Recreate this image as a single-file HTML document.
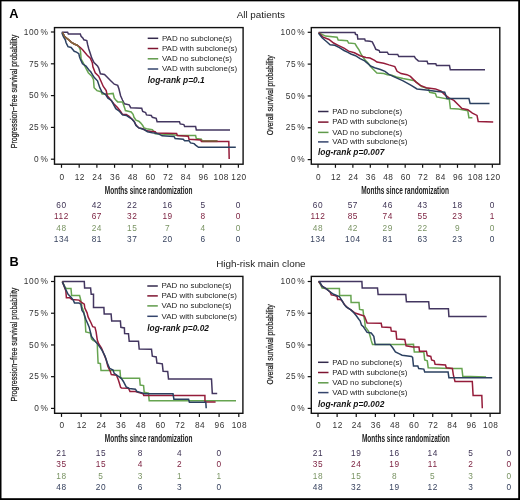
<!DOCTYPE html><html><head><meta charset="utf-8"><style>html,body{margin:0;padding:0;background:#fff;}svg{display:block;will-change:transform;}</style></head><body>
<svg width="520" height="500" viewBox="0 0 520 500" font-family='"Liberation Sans", sans-serif'>
<rect x="0" y="0" width="520" height="500" fill="#fff"/>
<rect x="0" y="0" width="1.5" height="500" fill="#000"/><rect x="0" y="0" width="520" height="1.35" fill="#000"/>
<rect x="518.2" y="0" width="1.8" height="500" fill="#000"/><rect x="0" y="498.2" width="520" height="1.8" fill="#000"/>
<text x="9.3" y="17.6" font-size="12.8" font-weight="bold" fill="#000">A</text>
<text x="9.5" y="265.8" font-size="12.8" font-weight="bold" fill="#000">B</text>
<text x="260.8" y="18.1" font-size="9.9" fill="#222" text-anchor="middle">All patients</text>
<text x="260.9" y="267.2" font-size="9.9" fill="#222" text-anchor="middle">High-risk main clone</text>
<polyline points="61.8,32.2 67.6,32.2 68.4,34 80.3,34 81.1,36.3 83,38.2 83.8,39.8 86.8,40.5 87.6,44.4 88.8,49 90.3,53.6 91.8,58.2 94,62.6 97.5,66 98.7,68.1 100.4,73.8 104.5,74.4 107.3,77.3 110.2,80.2 114.3,84.2 117.7,85.4 118.9,88.8 120.6,95.8 122.5,100 124.4,103.8 129.2,104.8 130.7,107.7 141.7,108.2 142.7,111.5 145.6,112.5 146.5,114.9 151.3,115.4 152.3,117.3 156.2,118.3 157.1,121.8 179.5,121.8 180.2,123.9 183.9,124.6 184.6,126.4 195.6,126.4 196.3,130 230,130" fill="none" stroke="#433660" stroke-width="1.5" stroke-linejoin="miter"/>
<polyline points="62.6,32.5 64.5,36.3 66.5,38.2 68.8,39.8 71.1,42.1 74.2,44 77.2,45.2 78.8,46.7 80.3,49.8 80.7,53.6 81.1,59 83.1,62.6 86,68.4 88.3,72.7 91.8,76.1 93.5,79.6 94.1,87.7 97,90.6 101,91.7 102.1,94 107.9,94 113.1,93.4 114.3,98.1 115.8,100 117.7,101.9 122.5,101.9 123.5,104.8 124.9,108.7 125.4,110.6 129.2,111.5 131.2,112 133.1,114.4 134,117.3 136,120.2 138.8,121.2 140.8,123.1 142.7,125.5 144.1,127.9 146.5,128.8 152.3,129.8 154.2,131.7 155.2,133.7 170,134.6 178.8,135.6 195.6,135.6 196.3,138.5 201.4,139.2 202.2,141 217.5,141" fill="none" stroke="#66a450" stroke-width="1.5" stroke-linejoin="miter"/>
<polyline points="62.6,32.5 64.5,36.3 66.5,38.2 68.8,39.8 71.1,42.1 74.2,44 77.2,45.2 80.3,47.5 82.6,49.8 84.9,52.5 87.2,55.2 90.3,58.2 92.3,62.6 92.9,66.9 95.2,72.7 98.7,76.1 101,81.3 103.3,86.5 106.2,90.6 107.3,95.8 110.2,99.2 113.8,103.8 117.7,107.7 120.6,111.5 122.5,114.4 126.3,114.4 129.2,116.3 132.1,119.2 134,121.2 136,125 138.8,127.9 142.7,128.8 146.5,130.8 150.4,131.3 155.2,131.7 156.2,133 176.6,133.4 177.3,135.6 188.3,136.3 189,139.2 200.7,140 201.4,141.6 228.8,141.6 229.2,159" fill="none" stroke="#951c3a" stroke-width="1.5" stroke-linejoin="miter"/>
<polyline points="61.8,32.5 63.4,36.7 65.3,39.8 66.1,42.8 68,46.7 71.1,47.5 73,49.8 74.2,51.3 76.5,52.1 78.8,53.6 79.5,56.7 80.3,59 82.5,63.8 86,66 89.5,70.7 90.6,71.5 94.1,77.3 97.5,80.8 99.8,87.7 102.1,92.3 105.6,94.6 107.9,98.1 111.4,100.4 115.8,108.7 119.6,111.5 122.5,114.9 126.3,115.4 129.2,117.3 132.1,119.2 134.5,122.1 136,125.5 138.8,127.9 141.7,128.8 144.6,129.8 147.5,131.7 152.3,132.7 156.2,133.2 159,134.1 162.1,135.8 173.7,136.4 174.4,137 175.1,138.5 183.2,139.2 184.6,140.7 189,140.7 190.5,142.9 194.1,143.6 195.6,145.1 198.5,147.3 235.8,147.3" fill="none" stroke="#2b4060" stroke-width="1.5" stroke-linejoin="miter"/>
<polyline points="62.6,32.5 64.5,36.3 66.5,38.2 68.8,39.8 71.1,42.1 74.2,44 77.2,45.2 78.8,46.7" fill="none" stroke="#86683c" stroke-width="1.5"/>
<polyline points="202.2,141.3 217.5,141.3" fill="none" stroke="#7a4a35" stroke-width="1.6"/>
<rect x="54.5" y="27.6" width="188.6" height="136.6" fill="none" stroke="#111" stroke-width="1.4"/>
<line x1="50.9" y1="32" x2="54.5" y2="32" stroke="#111" stroke-width="1.2"/>
<text x="48.5" y="34.7" font-size="8.3" fill="#333" text-anchor="end" letter-spacing="0.6" word-spacing="-1.7">100 %</text>
<line x1="50.9" y1="63.8" x2="54.5" y2="63.8" stroke="#111" stroke-width="1.2"/>
<text x="48.5" y="66.5" font-size="8.3" fill="#333" text-anchor="end" letter-spacing="0.6" word-spacing="-1.7">75 %</text>
<line x1="50.9" y1="95.6" x2="54.5" y2="95.6" stroke="#111" stroke-width="1.2"/>
<text x="48.5" y="98.3" font-size="8.3" fill="#333" text-anchor="end" letter-spacing="0.6" word-spacing="-1.7">50 %</text>
<line x1="50.9" y1="127.4" x2="54.5" y2="127.4" stroke="#111" stroke-width="1.2"/>
<text x="48.5" y="130.1" font-size="8.3" fill="#333" text-anchor="end" letter-spacing="0.6" word-spacing="-1.7">25 %</text>
<line x1="50.9" y1="159.2" x2="54.5" y2="159.2" stroke="#111" stroke-width="1.2"/>
<text x="48.5" y="161.9" font-size="8.3" fill="#333" text-anchor="end" letter-spacing="0.6" word-spacing="-1.7">0 %</text>
<line x1="61.5" y1="164.2" x2="61.5" y2="167.8" stroke="#111" stroke-width="1.2"/>
<text x="62.1" y="179.8" font-size="8.3" fill="#333" text-anchor="middle" letter-spacing="0.5">0</text>
<line x1="79.19" y1="164.2" x2="79.19" y2="167.8" stroke="#111" stroke-width="1.2"/>
<text x="79.79" y="179.8" font-size="8.3" fill="#333" text-anchor="middle" letter-spacing="0.5">12</text>
<line x1="96.88" y1="164.2" x2="96.88" y2="167.8" stroke="#111" stroke-width="1.2"/>
<text x="97.48" y="179.8" font-size="8.3" fill="#333" text-anchor="middle" letter-spacing="0.5">24</text>
<line x1="114.56" y1="164.2" x2="114.56" y2="167.8" stroke="#111" stroke-width="1.2"/>
<text x="115.16" y="179.8" font-size="8.3" fill="#333" text-anchor="middle" letter-spacing="0.5">36</text>
<line x1="132.25" y1="164.2" x2="132.25" y2="167.8" stroke="#111" stroke-width="1.2"/>
<text x="132.85" y="179.8" font-size="8.3" fill="#333" text-anchor="middle" letter-spacing="0.5">48</text>
<line x1="149.94" y1="164.2" x2="149.94" y2="167.8" stroke="#111" stroke-width="1.2"/>
<text x="150.54" y="179.8" font-size="8.3" fill="#333" text-anchor="middle" letter-spacing="0.5">60</text>
<line x1="167.63" y1="164.2" x2="167.63" y2="167.8" stroke="#111" stroke-width="1.2"/>
<text x="168.23" y="179.8" font-size="8.3" fill="#333" text-anchor="middle" letter-spacing="0.5">72</text>
<line x1="185.32" y1="164.2" x2="185.32" y2="167.8" stroke="#111" stroke-width="1.2"/>
<text x="185.92" y="179.8" font-size="8.3" fill="#333" text-anchor="middle" letter-spacing="0.5">84</text>
<line x1="203" y1="164.2" x2="203" y2="167.8" stroke="#111" stroke-width="1.2"/>
<text x="203.6" y="179.8" font-size="8.3" fill="#333" text-anchor="middle" letter-spacing="0.5">96</text>
<line x1="220.69" y1="164.2" x2="220.69" y2="167.8" stroke="#111" stroke-width="1.2"/>
<text x="221.29" y="179.8" font-size="8.3" fill="#333" text-anchor="middle" letter-spacing="0.5">108</text>
<line x1="238.38" y1="164.2" x2="238.38" y2="167.8" stroke="#111" stroke-width="1.2"/>
<text x="238.98" y="179.8" font-size="8.3" fill="#333" text-anchor="middle" letter-spacing="0.5">120</text>
<text x="104.8" y="194.3" font-size="10.3" font-weight="bold" fill="#222" textLength="87.7" lengthAdjust="spacingAndGlyphs">Months since randomization</text>
<text transform="translate(17.2,148.2) rotate(-90)" x="0" y="0" font-size="9.4" fill="#222" stroke="#222" stroke-width="0.25" textLength="113.4" lengthAdjust="spacingAndGlyphs">Progression−free survival probability</text>
<line x1="147.7" y1="38.3" x2="158.2" y2="38.3" stroke="#342a4c" stroke-width="1.5"/>
<text x="161.9" y="40.65" font-size="7.95" fill="#1e1e1e">PAD no subclone(s)</text>
<line x1="147.7" y1="48.5" x2="158.2" y2="48.5" stroke="#7e1430" stroke-width="1.5"/>
<text x="161.9" y="50.85" font-size="7.95" fill="#1e1e1e">PAD with subclone(s)</text>
<line x1="147.7" y1="58.8" x2="158.2" y2="58.8" stroke="#5f9a4a" stroke-width="1.5"/>
<text x="161.9" y="61.15" font-size="7.95" fill="#1e1e1e">VAD no subclone(s)</text>
<line x1="147.7" y1="69" x2="158.2" y2="69" stroke="#34446c" stroke-width="1.5"/>
<text x="161.9" y="71.35" font-size="7.95" fill="#1e1e1e">VAD with subclone(s)</text>
<text x="147.7" y="83" font-size="8.4" font-weight="bold" font-style="italic" fill="#111">log-rank p=0.1</text>
<text x="61.5" y="207.5" font-size="8.3" fill="#3e3354" text-anchor="middle" letter-spacing="0.6">60</text>
<text x="96.88" y="207.5" font-size="8.3" fill="#3e3354" text-anchor="middle" letter-spacing="0.6">42</text>
<text x="132.25" y="207.5" font-size="8.3" fill="#3e3354" text-anchor="middle" letter-spacing="0.6">22</text>
<text x="167.63" y="207.5" font-size="8.3" fill="#3e3354" text-anchor="middle" letter-spacing="0.6">16</text>
<text x="203" y="207.5" font-size="8.3" fill="#3e3354" text-anchor="middle" letter-spacing="0.6">5</text>
<text x="238.38" y="207.5" font-size="8.3" fill="#3e3354" text-anchor="middle" letter-spacing="0.6">0</text>
<text x="61.5" y="219" font-size="8.3" fill="#7d2342" text-anchor="middle" letter-spacing="0.6">112</text>
<text x="96.88" y="219" font-size="8.3" fill="#7d2342" text-anchor="middle" letter-spacing="0.6">67</text>
<text x="132.25" y="219" font-size="8.3" fill="#7d2342" text-anchor="middle" letter-spacing="0.6">32</text>
<text x="167.63" y="219" font-size="8.3" fill="#7d2342" text-anchor="middle" letter-spacing="0.6">19</text>
<text x="203" y="219" font-size="8.3" fill="#7d2342" text-anchor="middle" letter-spacing="0.6">8</text>
<text x="238.38" y="219" font-size="8.3" fill="#7d2342" text-anchor="middle" letter-spacing="0.6">0</text>
<text x="61.5" y="230.6" font-size="8.3" fill="#7a9464" text-anchor="middle" letter-spacing="0.6">48</text>
<text x="96.88" y="230.6" font-size="8.3" fill="#7a9464" text-anchor="middle" letter-spacing="0.6">24</text>
<text x="132.25" y="230.6" font-size="8.3" fill="#7a9464" text-anchor="middle" letter-spacing="0.6">15</text>
<text x="167.63" y="230.6" font-size="8.3" fill="#7a9464" text-anchor="middle" letter-spacing="0.6">7</text>
<text x="203" y="230.6" font-size="8.3" fill="#7a9464" text-anchor="middle" letter-spacing="0.6">4</text>
<text x="238.38" y="230.6" font-size="8.3" fill="#7a9464" text-anchor="middle" letter-spacing="0.6">0</text>
<text x="61.5" y="242.1" font-size="8.3" fill="#37425e" text-anchor="middle" letter-spacing="0.6">134</text>
<text x="96.88" y="242.1" font-size="8.3" fill="#37425e" text-anchor="middle" letter-spacing="0.6">81</text>
<text x="132.25" y="242.1" font-size="8.3" fill="#37425e" text-anchor="middle" letter-spacing="0.6">37</text>
<text x="167.63" y="242.1" font-size="8.3" fill="#37425e" text-anchor="middle" letter-spacing="0.6">20</text>
<text x="203" y="242.1" font-size="8.3" fill="#37425e" text-anchor="middle" letter-spacing="0.6">6</text>
<text x="238.38" y="242.1" font-size="8.3" fill="#37425e" text-anchor="middle" letter-spacing="0.6">0</text>
<polyline points="318.6,32.6 355,32.6 355.5,34.3 357.3,34.9 357.8,39 364.7,39 365.3,40.7 370,41.3 372.3,41.8 374,45.3 375.8,49.3 379.2,50.5 379.8,52.2 387.3,52.2 388.5,54.3 397.7,54.5 398.8,56.6 414.4,56.6 415.6,58.6 418.4,60.9 427.1,61.2 427.9,63.7 435.8,63.7 436.5,65.6 449.5,65.6 450.3,69.8 485,69.8" fill="none" stroke="#433660" stroke-width="1.5" stroke-linejoin="miter"/>
<polyline points="318.6,32.6 322.1,34.3 325.5,36.1 337.1,37.2 338.2,40.1 347.4,40.7 348.6,43 355,43.6 356.7,46.5 359,49.9 360.7,53.4 362.4,56.3 365.3,60.3 367.6,62.6 371,67 374.6,70.7 376.9,73 383.8,73.6 387.3,74.7 391.9,75.3 396.5,77 403.1,78.5 414.6,80.8 421.6,86.6 428.5,88.9 429.7,92.3 435.4,93.5 436.6,96.9 449.3,99.3 450.4,108.5 458.5,109 467.8,110.8 468.9,117.7 472.4,117.7" fill="none" stroke="#66a450" stroke-width="1.5" stroke-linejoin="miter"/>
<polyline points="318.6,32.6 323.2,37.2 329,39.5 333.6,43 338.2,45.3 344,48.2 348.6,51.1 354.4,52.8 360.1,55.7 365.9,57.4 370,58 374.6,60.3 376.9,62 383.8,63.2 389,64.9 394.8,66.6 397.1,71.3 401.1,73.6 406.9,74.7 410.4,76.4 415.8,81.9 420.4,85.4 426.2,87.7 435.4,88.9 441.2,91.2 444.7,94.6 449.3,98.1 453.9,100.4 458.5,105 462,108.5 467.8,109.7 472.4,113.1 477,115.4 478.2,121.5 493.2,121.9" fill="none" stroke="#951c3a" stroke-width="1.5" stroke-linejoin="miter"/>
<polyline points="318.6,33.2 322.1,37.8 326.7,41.8 330.1,44.7 334.8,45.3 339.4,47.6 344,50.5 347.4,52.2 350.9,54 355.5,55.7 360.1,58.6 364.7,60.9 368.2,63.8 370.5,66 374.6,67.8 380.4,69.5 385,71.3 388.5,74.1 393.1,76.4 403.1,80.8 411.2,85.4 417,88.9 426.2,90 435.4,91.2 444.7,92.3 447,98.4 468.9,98.4 470.1,103.4 489.5,103.4" fill="none" stroke="#2b4060" stroke-width="1.5" stroke-linejoin="miter"/>
<rect x="311.3" y="27.6" width="188.5" height="136.6" fill="none" stroke="#111" stroke-width="1.4"/>
<line x1="307.7" y1="32.3" x2="311.3" y2="32.3" stroke="#111" stroke-width="1.2"/>
<text x="305.3" y="35" font-size="8.3" fill="#333" text-anchor="end" letter-spacing="0.6" word-spacing="-1.7">100 %</text>
<line x1="307.7" y1="64.12" x2="311.3" y2="64.12" stroke="#111" stroke-width="1.2"/>
<text x="305.3" y="66.83" font-size="8.3" fill="#333" text-anchor="end" letter-spacing="0.6" word-spacing="-1.7">75 %</text>
<line x1="307.7" y1="95.95" x2="311.3" y2="95.95" stroke="#111" stroke-width="1.2"/>
<text x="305.3" y="98.65" font-size="8.3" fill="#333" text-anchor="end" letter-spacing="0.6" word-spacing="-1.7">50 %</text>
<line x1="307.7" y1="127.77" x2="311.3" y2="127.77" stroke="#111" stroke-width="1.2"/>
<text x="305.3" y="130.47" font-size="8.3" fill="#333" text-anchor="end" letter-spacing="0.6" word-spacing="-1.7">25 %</text>
<line x1="307.7" y1="159.6" x2="311.3" y2="159.6" stroke="#111" stroke-width="1.2"/>
<text x="305.3" y="162.3" font-size="8.3" fill="#333" text-anchor="end" letter-spacing="0.6" word-spacing="-1.7">0 %</text>
<line x1="318" y1="164.2" x2="318" y2="167.8" stroke="#111" stroke-width="1.2"/>
<text x="318.6" y="179.8" font-size="8.3" fill="#333" text-anchor="middle" letter-spacing="0.5">0</text>
<line x1="335.44" y1="164.2" x2="335.44" y2="167.8" stroke="#111" stroke-width="1.2"/>
<text x="336.04" y="179.8" font-size="8.3" fill="#333" text-anchor="middle" letter-spacing="0.5">12</text>
<line x1="352.87" y1="164.2" x2="352.87" y2="167.8" stroke="#111" stroke-width="1.2"/>
<text x="353.47" y="179.8" font-size="8.3" fill="#333" text-anchor="middle" letter-spacing="0.5">24</text>
<line x1="370.31" y1="164.2" x2="370.31" y2="167.8" stroke="#111" stroke-width="1.2"/>
<text x="370.91" y="179.8" font-size="8.3" fill="#333" text-anchor="middle" letter-spacing="0.5">36</text>
<line x1="387.74" y1="164.2" x2="387.74" y2="167.8" stroke="#111" stroke-width="1.2"/>
<text x="388.34" y="179.8" font-size="8.3" fill="#333" text-anchor="middle" letter-spacing="0.5">48</text>
<line x1="405.18" y1="164.2" x2="405.18" y2="167.8" stroke="#111" stroke-width="1.2"/>
<text x="405.78" y="179.8" font-size="8.3" fill="#333" text-anchor="middle" letter-spacing="0.5">60</text>
<line x1="422.62" y1="164.2" x2="422.62" y2="167.8" stroke="#111" stroke-width="1.2"/>
<text x="423.22" y="179.8" font-size="8.3" fill="#333" text-anchor="middle" letter-spacing="0.5">72</text>
<line x1="440.05" y1="164.2" x2="440.05" y2="167.8" stroke="#111" stroke-width="1.2"/>
<text x="440.65" y="179.8" font-size="8.3" fill="#333" text-anchor="middle" letter-spacing="0.5">84</text>
<line x1="457.49" y1="164.2" x2="457.49" y2="167.8" stroke="#111" stroke-width="1.2"/>
<text x="458.09" y="179.8" font-size="8.3" fill="#333" text-anchor="middle" letter-spacing="0.5">96</text>
<line x1="474.92" y1="164.2" x2="474.92" y2="167.8" stroke="#111" stroke-width="1.2"/>
<text x="475.52" y="179.8" font-size="8.3" fill="#333" text-anchor="middle" letter-spacing="0.5">108</text>
<line x1="492.36" y1="164.2" x2="492.36" y2="167.8" stroke="#111" stroke-width="1.2"/>
<text x="492.96" y="179.8" font-size="8.3" fill="#333" text-anchor="middle" letter-spacing="0.5">120</text>
<text x="361.2" y="194.3" font-size="10.3" font-weight="bold" fill="#222" textLength="87.8" lengthAdjust="spacingAndGlyphs">Months since randomization</text>
<text transform="translate(272.8,135.2) rotate(-90)" x="0" y="0" font-size="9.4" fill="#222" stroke="#222" stroke-width="0.25" textLength="80" lengthAdjust="spacingAndGlyphs">Overall survival probability</text>
<line x1="318" y1="111.5" x2="328.5" y2="111.5" stroke="#342a4c" stroke-width="1.5"/>
<text x="332.2" y="113.85" font-size="7.95" fill="#1e1e1e">PAD no subclone(s)</text>
<line x1="318" y1="122.1" x2="328.5" y2="122.1" stroke="#7e1430" stroke-width="1.5"/>
<text x="332.2" y="124.45" font-size="7.95" fill="#1e1e1e">PAD with subclone(s)</text>
<line x1="318" y1="132.4" x2="328.5" y2="132.4" stroke="#5f9a4a" stroke-width="1.5"/>
<text x="332.2" y="134.75" font-size="7.95" fill="#1e1e1e">VAD no subclone(s)</text>
<line x1="318" y1="141.9" x2="328.5" y2="141.9" stroke="#34446c" stroke-width="1.5"/>
<text x="332.2" y="144.25" font-size="7.95" fill="#1e1e1e">VAD with subclone(s)</text>
<text x="318" y="155.2" font-size="8.4" font-weight="bold" font-style="italic" fill="#111">log-rank p=0.007</text>
<text x="318" y="207.5" font-size="8.3" fill="#3e3354" text-anchor="middle" letter-spacing="0.6">60</text>
<text x="352.87" y="207.5" font-size="8.3" fill="#3e3354" text-anchor="middle" letter-spacing="0.6">57</text>
<text x="387.74" y="207.5" font-size="8.3" fill="#3e3354" text-anchor="middle" letter-spacing="0.6">46</text>
<text x="422.62" y="207.5" font-size="8.3" fill="#3e3354" text-anchor="middle" letter-spacing="0.6">43</text>
<text x="457.49" y="207.5" font-size="8.3" fill="#3e3354" text-anchor="middle" letter-spacing="0.6">18</text>
<text x="492.36" y="207.5" font-size="8.3" fill="#3e3354" text-anchor="middle" letter-spacing="0.6">0</text>
<text x="318" y="219" font-size="8.3" fill="#7d2342" text-anchor="middle" letter-spacing="0.6">112</text>
<text x="352.87" y="219" font-size="8.3" fill="#7d2342" text-anchor="middle" letter-spacing="0.6">85</text>
<text x="387.74" y="219" font-size="8.3" fill="#7d2342" text-anchor="middle" letter-spacing="0.6">74</text>
<text x="422.62" y="219" font-size="8.3" fill="#7d2342" text-anchor="middle" letter-spacing="0.6">55</text>
<text x="457.49" y="219" font-size="8.3" fill="#7d2342" text-anchor="middle" letter-spacing="0.6">23</text>
<text x="492.36" y="219" font-size="8.3" fill="#7d2342" text-anchor="middle" letter-spacing="0.6">1</text>
<text x="318" y="230.6" font-size="8.3" fill="#7a9464" text-anchor="middle" letter-spacing="0.6">48</text>
<text x="352.87" y="230.6" font-size="8.3" fill="#7a9464" text-anchor="middle" letter-spacing="0.6">42</text>
<text x="387.74" y="230.6" font-size="8.3" fill="#7a9464" text-anchor="middle" letter-spacing="0.6">29</text>
<text x="422.62" y="230.6" font-size="8.3" fill="#7a9464" text-anchor="middle" letter-spacing="0.6">22</text>
<text x="457.49" y="230.6" font-size="8.3" fill="#7a9464" text-anchor="middle" letter-spacing="0.6">9</text>
<text x="492.36" y="230.6" font-size="8.3" fill="#7a9464" text-anchor="middle" letter-spacing="0.6">0</text>
<text x="318" y="242.1" font-size="8.3" fill="#37425e" text-anchor="middle" letter-spacing="0.6">134</text>
<text x="352.87" y="242.1" font-size="8.3" fill="#37425e" text-anchor="middle" letter-spacing="0.6">104</text>
<text x="387.74" y="242.1" font-size="8.3" fill="#37425e" text-anchor="middle" letter-spacing="0.6">81</text>
<text x="422.62" y="242.1" font-size="8.3" fill="#37425e" text-anchor="middle" letter-spacing="0.6">63</text>
<text x="457.49" y="242.1" font-size="8.3" fill="#37425e" text-anchor="middle" letter-spacing="0.6">23</text>
<text x="492.36" y="242.1" font-size="8.3" fill="#37425e" text-anchor="middle" letter-spacing="0.6">0</text>
<polyline points="62.3,281.6 84.3,281.6 84.6,288 90.6,288 91.2,294.3 93.5,294.3 93.5,307.6 103.9,307.6 104.2,314 111.1,314 111.7,321 120.4,321 120.9,327.3 124.4,327.9 124.6,333.5 128.5,333.8 129.2,341.3 138.5,341.3 139.2,349 151.5,349.2 152.3,356.2 156.2,356.9 156.9,363.1 162.3,363.8 163.1,371.2 167.7,371.5 168.5,378.9 211.5,378.9 212.3,393.5 217.2,393.5" fill="none" stroke="#433660" stroke-width="1.5" stroke-linejoin="miter"/>
<polyline points="62.3,281.6 65.2,287.4 66.4,288.5 71,288.5 71.6,295.5 79.6,295.5 80.8,300.1 82,307 83.7,311.6 84.8,317.4 85.2,321.5 85.8,331.9 90.4,333.1 91.5,338.8 93.3,340.6 95,341.1 97.3,343.4 97.5,350.4 98.1,363.1 100.4,363.6 101,370.6 120,370.6 120.6,378.3 139.6,378.3 140.2,385 143.6,385.6 144.2,392.3 148.5,393.1 149.2,400.8 236,400.8" fill="none" stroke="#66a450" stroke-width="1.5" stroke-linejoin="miter"/>
<polyline points="62.3,281.6 65.8,290.8 66.4,297.8 69.8,297.8 72.1,299.5 79.1,300.1 80.8,301.8 84.3,304.1 84.8,308.1 87.1,312.8 88.1,316.9 91,322.7 92.7,326.7 95,327.3 96.1,331.9 97.3,340 98.5,343.4 101.5,348.1 103.8,353.8 106.1,359.6 107.9,366.5 110.2,371.1 111.3,374.6 116.5,375.2 118.3,379.8 119.4,383.3 120.6,387.3 121.5,387.9 128.5,388.2 130,391.5 135.4,391.5 143.1,393.8 143.8,395.6 204.9,395.6 205,402 215.6,402" fill="none" stroke="#951c3a" stroke-width="1.5" stroke-linejoin="miter"/>
<polyline points="62.3,281.6 65.8,289.7 68.1,294.3 71,297.2 73.3,300.1 74.5,303 79.1,303 80.8,304.1 82,310.4 83.7,312.8 85.8,319.2 89.2,327.3 91.5,336.5 95,341.1 98.1,344.6 102.1,350.4 105,356.1 107.3,363.1 109.6,368.3 113.1,370 114.2,373.4 117.7,375.8 121.1,378.1 123.4,381.5 126.2,386.9 129.2,388.5 135.4,389.2 136.9,391.5 143.1,393.1 144.6,393.8 173,393.8 173.9,399.2 188.6,399.2 189.4,402.2 205.8,402.2 206.2,408.2" fill="none" stroke="#2b4060" stroke-width="1.5" stroke-linejoin="miter"/>
<rect x="54.6" y="276.4" width="188.3" height="136.9" fill="none" stroke="#111" stroke-width="1.4"/>
<line x1="51" y1="281.5" x2="54.6" y2="281.5" stroke="#111" stroke-width="1.2"/>
<text x="48.6" y="284.2" font-size="8.3" fill="#333" text-anchor="end" letter-spacing="0.6" word-spacing="-1.7">100 %</text>
<line x1="51" y1="313.23" x2="54.6" y2="313.23" stroke="#111" stroke-width="1.2"/>
<text x="48.6" y="315.93" font-size="8.3" fill="#333" text-anchor="end" letter-spacing="0.6" word-spacing="-1.7">75 %</text>
<line x1="51" y1="344.95" x2="54.6" y2="344.95" stroke="#111" stroke-width="1.2"/>
<text x="48.6" y="347.65" font-size="8.3" fill="#333" text-anchor="end" letter-spacing="0.6" word-spacing="-1.7">50 %</text>
<line x1="51" y1="376.67" x2="54.6" y2="376.67" stroke="#111" stroke-width="1.2"/>
<text x="48.6" y="379.37" font-size="8.3" fill="#333" text-anchor="end" letter-spacing="0.6" word-spacing="-1.7">25 %</text>
<line x1="51" y1="408.4" x2="54.6" y2="408.4" stroke="#111" stroke-width="1.2"/>
<text x="48.6" y="411.1" font-size="8.3" fill="#333" text-anchor="end" letter-spacing="0.6" word-spacing="-1.7">0 %</text>
<line x1="61.5" y1="413.3" x2="61.5" y2="416.9" stroke="#111" stroke-width="1.2"/>
<text x="62.1" y="427.9" font-size="8.3" fill="#333" text-anchor="middle" letter-spacing="0.5">0</text>
<line x1="81.2" y1="413.3" x2="81.2" y2="416.9" stroke="#111" stroke-width="1.2"/>
<text x="81.8" y="427.9" font-size="8.3" fill="#333" text-anchor="middle" letter-spacing="0.5">12</text>
<line x1="100.9" y1="413.3" x2="100.9" y2="416.9" stroke="#111" stroke-width="1.2"/>
<text x="101.5" y="427.9" font-size="8.3" fill="#333" text-anchor="middle" letter-spacing="0.5">24</text>
<line x1="120.6" y1="413.3" x2="120.6" y2="416.9" stroke="#111" stroke-width="1.2"/>
<text x="121.2" y="427.9" font-size="8.3" fill="#333" text-anchor="middle" letter-spacing="0.5">36</text>
<line x1="140.3" y1="413.3" x2="140.3" y2="416.9" stroke="#111" stroke-width="1.2"/>
<text x="140.9" y="427.9" font-size="8.3" fill="#333" text-anchor="middle" letter-spacing="0.5">48</text>
<line x1="160" y1="413.3" x2="160" y2="416.9" stroke="#111" stroke-width="1.2"/>
<text x="160.6" y="427.9" font-size="8.3" fill="#333" text-anchor="middle" letter-spacing="0.5">60</text>
<line x1="179.7" y1="413.3" x2="179.7" y2="416.9" stroke="#111" stroke-width="1.2"/>
<text x="180.3" y="427.9" font-size="8.3" fill="#333" text-anchor="middle" letter-spacing="0.5">72</text>
<line x1="199.4" y1="413.3" x2="199.4" y2="416.9" stroke="#111" stroke-width="1.2"/>
<text x="200" y="427.9" font-size="8.3" fill="#333" text-anchor="middle" letter-spacing="0.5">84</text>
<line x1="219.1" y1="413.3" x2="219.1" y2="416.9" stroke="#111" stroke-width="1.2"/>
<text x="219.7" y="427.9" font-size="8.3" fill="#333" text-anchor="middle" letter-spacing="0.5">96</text>
<line x1="238.8" y1="413.3" x2="238.8" y2="416.9" stroke="#111" stroke-width="1.2"/>
<text x="239.4" y="427.9" font-size="8.3" fill="#333" text-anchor="middle" letter-spacing="0.5">108</text>
<text x="104.8" y="442.4" font-size="10.3" font-weight="bold" fill="#222" textLength="87.7" lengthAdjust="spacingAndGlyphs">Months since randomization</text>
<text transform="translate(17.2,401.5) rotate(-90)" x="0" y="0" font-size="9.4" fill="#222" stroke="#222" stroke-width="0.25" textLength="113.9" lengthAdjust="spacingAndGlyphs">Progression−free survival probability</text>
<line x1="147.3" y1="286" x2="157.8" y2="286" stroke="#342a4c" stroke-width="1.5"/>
<text x="161.5" y="288.35" font-size="7.95" fill="#1e1e1e">PAD no subclone(s)</text>
<line x1="147.3" y1="295.9" x2="157.8" y2="295.9" stroke="#7e1430" stroke-width="1.5"/>
<text x="161.5" y="298.25" font-size="7.95" fill="#1e1e1e">PAD with subclone(s)</text>
<line x1="147.3" y1="305.9" x2="157.8" y2="305.9" stroke="#5f9a4a" stroke-width="1.5"/>
<text x="161.5" y="308.25" font-size="7.95" fill="#1e1e1e">VAD no subclone(s)</text>
<line x1="147.3" y1="316.3" x2="157.8" y2="316.3" stroke="#34446c" stroke-width="1.5"/>
<text x="161.5" y="318.65" font-size="7.95" fill="#1e1e1e">VAD with subclone(s)</text>
<text x="147.3" y="331.3" font-size="8.4" font-weight="bold" font-style="italic" fill="#111">log-rank p=0.02</text>
<text x="61.5" y="455.9" font-size="8.3" fill="#3e3354" text-anchor="middle" letter-spacing="0.6">21</text>
<text x="100.9" y="455.9" font-size="8.3" fill="#3e3354" text-anchor="middle" letter-spacing="0.6">15</text>
<text x="140.3" y="455.9" font-size="8.3" fill="#3e3354" text-anchor="middle" letter-spacing="0.6">8</text>
<text x="179.7" y="455.9" font-size="8.3" fill="#3e3354" text-anchor="middle" letter-spacing="0.6">4</text>
<text x="219.1" y="455.9" font-size="8.3" fill="#3e3354" text-anchor="middle" letter-spacing="0.6">0</text>
<text x="61.5" y="467.4" font-size="8.3" fill="#7d2342" text-anchor="middle" letter-spacing="0.6">35</text>
<text x="100.9" y="467.4" font-size="8.3" fill="#7d2342" text-anchor="middle" letter-spacing="0.6">15</text>
<text x="140.3" y="467.4" font-size="8.3" fill="#7d2342" text-anchor="middle" letter-spacing="0.6">4</text>
<text x="179.7" y="467.4" font-size="8.3" fill="#7d2342" text-anchor="middle" letter-spacing="0.6">2</text>
<text x="219.1" y="467.4" font-size="8.3" fill="#7d2342" text-anchor="middle" letter-spacing="0.6">0</text>
<text x="61.5" y="478.5" font-size="8.3" fill="#7a9464" text-anchor="middle" letter-spacing="0.6">18</text>
<text x="100.9" y="478.5" font-size="8.3" fill="#7a9464" text-anchor="middle" letter-spacing="0.6">5</text>
<text x="140.3" y="478.5" font-size="8.3" fill="#7a9464" text-anchor="middle" letter-spacing="0.6">3</text>
<text x="179.7" y="478.5" font-size="8.3" fill="#7a9464" text-anchor="middle" letter-spacing="0.6">1</text>
<text x="219.1" y="478.5" font-size="8.3" fill="#7a9464" text-anchor="middle" letter-spacing="0.6">1</text>
<text x="61.5" y="490" font-size="8.3" fill="#37425e" text-anchor="middle" letter-spacing="0.6">48</text>
<text x="100.9" y="490" font-size="8.3" fill="#37425e" text-anchor="middle" letter-spacing="0.6">20</text>
<text x="140.3" y="490" font-size="8.3" fill="#37425e" text-anchor="middle" letter-spacing="0.6">6</text>
<text x="179.7" y="490" font-size="8.3" fill="#37425e" text-anchor="middle" letter-spacing="0.6">3</text>
<text x="219.1" y="490" font-size="8.3" fill="#37425e" text-anchor="middle" letter-spacing="0.6">0</text>
<polyline points="318.6,281.4 361.9,281.4 362.2,288 377.5,288 378.1,294.5 405.8,294.5 406.4,301.8 428.7,301.8 429.3,308.8 448.4,308.8 448.9,316.6 486.7,316.6" fill="none" stroke="#433660" stroke-width="1.5" stroke-linejoin="miter"/>
<polyline points="318.6,281.4 320.9,285.1 322.1,288 325.5,288.5 339.4,288.5 339.6,295.5 350.9,295.5 351.1,302.4 359,302.4 359.6,309.4 363,309.9 363.6,315.1 364.7,320.8 365.3,327 368.5,331 369.8,335 371.2,340.4 372.5,344.4 406.1,344.4 413.5,344.3 414.3,352.1 423.8,352.1 424.7,359.9 427.3,360.8 428.2,367.7 451.5,368.5 461.9,368.5 462.8,376.3 486.1,376.9" fill="none" stroke="#66a450" stroke-width="1.5" stroke-linejoin="miter"/>
<polyline points="318.6,281.4 322.1,286.2 326.7,289.1 330.1,292 331.3,294.9 334.8,295.5 337.1,296.6 337.6,299.5 340.5,299.5 342.3,301.2 344.6,304.7 347.4,307.6 350.9,309.9 353.2,311.6 355,313 360.4,314.8 364.4,316 365.8,319.5 367.1,323 381.2,323.3 381.9,327 390.7,327.4 391.3,331 396,331.4 396.7,339 404.8,339.5 406.1,345.8 412.9,346.9 419,347 419.5,351.2 426.4,351.2 427.3,355.6 430.8,356.4 431.6,359.9 434.2,360.8 435.1,364.2 445.5,365 446.3,367.7 452.4,368.5 453.3,374.6 455,381.5 472.3,381.5 473.1,395.4 481.8,395.4 482.3,408.3" fill="none" stroke="#951c3a" stroke-width="1.5" stroke-linejoin="miter"/>
<polyline points="318.6,281.4 319.8,282.2 322.1,286.2 326.7,289.1 330.1,292 333.6,294.3 339.4,296.6 341.7,300.1 344,304.1 346.3,307 350.9,309.9 353.8,312.8 356.5,316 359,319.5 360.1,320.8 361.5,325 363.6,327 364.4,328.3 367.1,332.3 371.2,333 373.8,336.3 375.2,344.4 390,344.4 392.7,347.8 395.4,351.8 399.4,353.8 402.1,355.2 411.5,356.5 412.6,357.3 413.5,366 417.8,366 418.7,368.5 423.8,369.1 424.7,372 448.1,372 448.9,377.7 492.2,377.7" fill="none" stroke="#2b4060" stroke-width="1.5" stroke-linejoin="miter"/>
<rect x="311.3" y="276.4" width="188.7" height="136.9" fill="none" stroke="#111" stroke-width="1.4"/>
<line x1="307.7" y1="281.5" x2="311.3" y2="281.5" stroke="#111" stroke-width="1.2"/>
<text x="305.3" y="284.2" font-size="8.3" fill="#333" text-anchor="end" letter-spacing="0.6" word-spacing="-1.7">100 %</text>
<line x1="307.7" y1="313.23" x2="311.3" y2="313.23" stroke="#111" stroke-width="1.2"/>
<text x="305.3" y="315.93" font-size="8.3" fill="#333" text-anchor="end" letter-spacing="0.6" word-spacing="-1.7">75 %</text>
<line x1="307.7" y1="344.95" x2="311.3" y2="344.95" stroke="#111" stroke-width="1.2"/>
<text x="305.3" y="347.65" font-size="8.3" fill="#333" text-anchor="end" letter-spacing="0.6" word-spacing="-1.7">50 %</text>
<line x1="307.7" y1="376.67" x2="311.3" y2="376.67" stroke="#111" stroke-width="1.2"/>
<text x="305.3" y="379.37" font-size="8.3" fill="#333" text-anchor="end" letter-spacing="0.6" word-spacing="-1.7">25 %</text>
<line x1="307.7" y1="408.4" x2="311.3" y2="408.4" stroke="#111" stroke-width="1.2"/>
<text x="305.3" y="411.1" font-size="8.3" fill="#333" text-anchor="end" letter-spacing="0.6" word-spacing="-1.7">0 %</text>
<line x1="318" y1="413.3" x2="318" y2="416.9" stroke="#111" stroke-width="1.2"/>
<text x="318.6" y="427.9" font-size="8.3" fill="#333" text-anchor="middle" letter-spacing="0.5">0</text>
<line x1="337.12" y1="413.3" x2="337.12" y2="416.9" stroke="#111" stroke-width="1.2"/>
<text x="337.72" y="427.9" font-size="8.3" fill="#333" text-anchor="middle" letter-spacing="0.5">12</text>
<line x1="356.24" y1="413.3" x2="356.24" y2="416.9" stroke="#111" stroke-width="1.2"/>
<text x="356.84" y="427.9" font-size="8.3" fill="#333" text-anchor="middle" letter-spacing="0.5">24</text>
<line x1="375.37" y1="413.3" x2="375.37" y2="416.9" stroke="#111" stroke-width="1.2"/>
<text x="375.97" y="427.9" font-size="8.3" fill="#333" text-anchor="middle" letter-spacing="0.5">36</text>
<line x1="394.49" y1="413.3" x2="394.49" y2="416.9" stroke="#111" stroke-width="1.2"/>
<text x="395.09" y="427.9" font-size="8.3" fill="#333" text-anchor="middle" letter-spacing="0.5">48</text>
<line x1="413.61" y1="413.3" x2="413.61" y2="416.9" stroke="#111" stroke-width="1.2"/>
<text x="414.21" y="427.9" font-size="8.3" fill="#333" text-anchor="middle" letter-spacing="0.5">60</text>
<line x1="432.73" y1="413.3" x2="432.73" y2="416.9" stroke="#111" stroke-width="1.2"/>
<text x="433.33" y="427.9" font-size="8.3" fill="#333" text-anchor="middle" letter-spacing="0.5">72</text>
<line x1="451.85" y1="413.3" x2="451.85" y2="416.9" stroke="#111" stroke-width="1.2"/>
<text x="452.45" y="427.9" font-size="8.3" fill="#333" text-anchor="middle" letter-spacing="0.5">84</text>
<line x1="470.98" y1="413.3" x2="470.98" y2="416.9" stroke="#111" stroke-width="1.2"/>
<text x="471.58" y="427.9" font-size="8.3" fill="#333" text-anchor="middle" letter-spacing="0.5">96</text>
<line x1="490.1" y1="413.3" x2="490.1" y2="416.9" stroke="#111" stroke-width="1.2"/>
<text x="490.7" y="427.9" font-size="8.3" fill="#333" text-anchor="middle" letter-spacing="0.5">108</text>
<text x="361.9" y="442.4" font-size="10.3" font-weight="bold" fill="#222" textLength="87.8" lengthAdjust="spacingAndGlyphs">Months since randomization</text>
<text transform="translate(273.1,384.4) rotate(-90)" x="0" y="0" font-size="9.4" fill="#222" stroke="#222" stroke-width="0.25" textLength="80.2" lengthAdjust="spacingAndGlyphs">Overall survival probability</text>
<line x1="318" y1="362.3" x2="328.5" y2="362.3" stroke="#342a4c" stroke-width="1.5"/>
<text x="332.2" y="364.65" font-size="7.95" fill="#1e1e1e">PAD no subclone(s)</text>
<line x1="318" y1="372.5" x2="328.5" y2="372.5" stroke="#7e1430" stroke-width="1.5"/>
<text x="332.2" y="374.85" font-size="7.95" fill="#1e1e1e">PAD with subclone(s)</text>
<line x1="318" y1="382.8" x2="328.5" y2="382.8" stroke="#5f9a4a" stroke-width="1.5"/>
<text x="332.2" y="385.15" font-size="7.95" fill="#1e1e1e">VAD no subclone(s)</text>
<line x1="318" y1="392.6" x2="328.5" y2="392.6" stroke="#34446c" stroke-width="1.5"/>
<text x="332.2" y="394.95" font-size="7.95" fill="#1e1e1e">VAD with subclone(s)</text>
<text x="318" y="406.5" font-size="8.4" font-weight="bold" font-style="italic" fill="#111">log-rank p=0.002</text>
<text x="318" y="455.9" font-size="8.3" fill="#3e3354" text-anchor="middle" letter-spacing="0.6">21</text>
<text x="356.24" y="455.9" font-size="8.3" fill="#3e3354" text-anchor="middle" letter-spacing="0.6">19</text>
<text x="394.49" y="455.9" font-size="8.3" fill="#3e3354" text-anchor="middle" letter-spacing="0.6">16</text>
<text x="432.73" y="455.9" font-size="8.3" fill="#3e3354" text-anchor="middle" letter-spacing="0.6">14</text>
<text x="470.98" y="455.9" font-size="8.3" fill="#3e3354" text-anchor="middle" letter-spacing="0.6">5</text>
<text x="509.22" y="455.9" font-size="8.3" fill="#3e3354" text-anchor="middle" letter-spacing="0.6">0</text>
<text x="318" y="467.4" font-size="8.3" fill="#7d2342" text-anchor="middle" letter-spacing="0.6">35</text>
<text x="356.24" y="467.4" font-size="8.3" fill="#7d2342" text-anchor="middle" letter-spacing="0.6">24</text>
<text x="394.49" y="467.4" font-size="8.3" fill="#7d2342" text-anchor="middle" letter-spacing="0.6">19</text>
<text x="432.73" y="467.4" font-size="8.3" fill="#7d2342" text-anchor="middle" letter-spacing="0.6">11</text>
<text x="470.98" y="467.4" font-size="8.3" fill="#7d2342" text-anchor="middle" letter-spacing="0.6">2</text>
<text x="509.22" y="467.4" font-size="8.3" fill="#7d2342" text-anchor="middle" letter-spacing="0.6">0</text>
<text x="318" y="478.5" font-size="8.3" fill="#7a9464" text-anchor="middle" letter-spacing="0.6">18</text>
<text x="356.24" y="478.5" font-size="8.3" fill="#7a9464" text-anchor="middle" letter-spacing="0.6">15</text>
<text x="394.49" y="478.5" font-size="8.3" fill="#7a9464" text-anchor="middle" letter-spacing="0.6">8</text>
<text x="432.73" y="478.5" font-size="8.3" fill="#7a9464" text-anchor="middle" letter-spacing="0.6">5</text>
<text x="470.98" y="478.5" font-size="8.3" fill="#7a9464" text-anchor="middle" letter-spacing="0.6">3</text>
<text x="509.22" y="478.5" font-size="8.3" fill="#7a9464" text-anchor="middle" letter-spacing="0.6">0</text>
<text x="318" y="490" font-size="8.3" fill="#37425e" text-anchor="middle" letter-spacing="0.6">48</text>
<text x="356.24" y="490" font-size="8.3" fill="#37425e" text-anchor="middle" letter-spacing="0.6">32</text>
<text x="394.49" y="490" font-size="8.3" fill="#37425e" text-anchor="middle" letter-spacing="0.6">19</text>
<text x="432.73" y="490" font-size="8.3" fill="#37425e" text-anchor="middle" letter-spacing="0.6">12</text>
<text x="470.98" y="490" font-size="8.3" fill="#37425e" text-anchor="middle" letter-spacing="0.6">3</text>
<text x="509.22" y="490" font-size="8.3" fill="#37425e" text-anchor="middle" letter-spacing="0.6">0</text>
</svg></body></html>
